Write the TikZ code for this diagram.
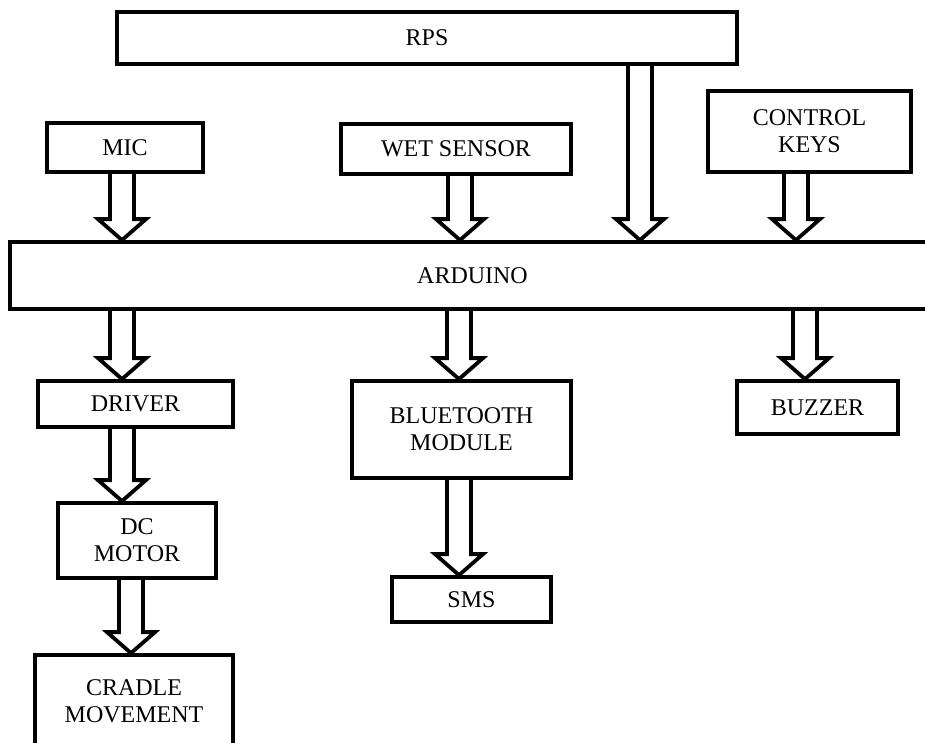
\documentclass[tikz,border=0pt]{standalone}
\usepackage{fontspec}
\setmainfont{Liberation Serif}
\usetikzlibrary{calc}

\tikzset{
  blk/.style={draw, line width=3.8pt, inner sep=0pt, align=center,
    font=\fontsize{24}{27}\selectfont},
  fat/.style={line width=3.8pt, miter limit=20, to path={
    let \p1=(\tikztostart), \p2=(\tikztotarget) in
    (\x1-12pt,\y1) -- (\x1-12pt,\y2+21pt) -- (\x1-24pt,\y2+21pt)
    -- (\x2,\y2) -- (\x1+24pt,\y2+21pt) -- (\x1+12pt,\y2+21pt)
    -- (\x1+12pt,\y1)}}
}

\begin{document}
\begin{tikzpicture}[x=1pt,y=-1pt]
\useasboundingbox (0,0) rectangle (925,742);
\node[blk, minimum width=620pt, minimum height=52pt] (rps) at (427,38) {RPS};
\node[blk, minimum width=156pt, minimum height=49pt] (mic) at (125,147.5) {MIC};
\node[blk, minimum width=230pt, minimum height=50pt] (wet) at (456,149) {WET SENSOR};
\node[blk, minimum width=203pt, minimum height=81pt] (keys) at (809.5,131.5) {CONTROL\\KEYS};
\node[blk, minimum width=925pt, minimum height=67pt] (ard) at (472.5,275.5) {ARDUINO};
\node[blk, minimum width=195pt, minimum height=46pt] (drv) at (135.5,404) {DRIVER};
\node[blk, minimum width=219pt, minimum height=97pt] (bt) at (461.5,429.5) {BLUETOOTH\\MODULE};
\node[blk, minimum width=161pt, minimum height=53pt] (buz) at (817.5,407.5) {BUZZER};
\node[blk, minimum width=158pt, minimum height=75pt] (dcm) at (137,540.5) {DC\\MOTOR};
\node[blk, minimum width=159pt, minimum height=45pt] (sms) at (471.5,599.5) {SMS};
\node[blk, minimum width=198pt, minimum height=92pt] (crd) at (134,701) {CRADLE\\MOVEMENT};

% inputs
\draw[fat] (122,0 |- mic.south) to (122,0 |- ard.north);
\draw[fat] (460,0 |- wet.south) to (460,0 |- ard.north);
\draw[fat] (640,0 |- rps.south) to (640,0 |- ard.north);
\draw[fat] (796,0 |- keys.south) to (796,0 |- ard.north);
% outputs
\draw[fat] (122,0 |- ard.south) to (122,0 |- drv.north);
\draw[fat] (459,0 |- ard.south) to (459,0 |- bt.north);
\draw[fat] (805,0 |- ard.south) to (805,0 |- buz.north);
\draw[fat] (122,0 |- drv.south) to (122,0 |- dcm.north);
\draw[fat] (131,0 |- dcm.south) to (131,0 |- crd.north);
\draw[fat] (459,0 |- bt.south) to (459,0 |- sms.north);
\end{tikzpicture}
\end{document}
